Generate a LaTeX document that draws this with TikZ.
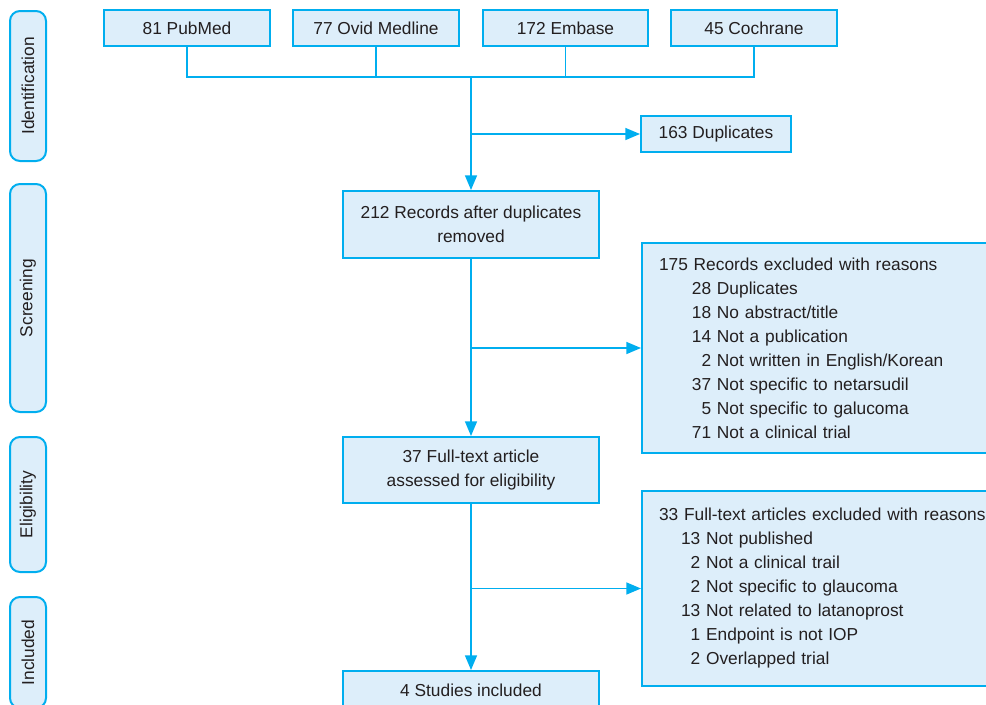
\documentclass[tikz,border=0pt]{standalone}
\usepackage{fontspec}
\setmainfont{Liberation Sans}
\usetikzlibrary{arrows.meta}
\definecolor{bfill}{RGB}{221,238,250}
\definecolor{bline}{RGB}{0,174,239}
\definecolor{txt}{RGB}{35,31,32}
\newdimen\px \px=0.75pt
\newcommand{\exl}[3]{\hspace*{#1}\makebox[1.112em][r]{#2} #3}
\begin{document}
\begin{tikzpicture}[x=0.75pt,y=-0.75pt,
  font=\fontsize{13}{18}\selectfont, text=txt,
  box/.style={draw=bline, fill=bfill, line width=1.5pt, inner sep=0pt, align=center},
  side/.style={box, rounded corners=7.5pt, rotate=90, minimum height=36\px},
  topbox/.style={box, minimum height=36\px},
  mainbox/.style={box, minimum width=256\px},
  exbox/.style={box, anchor=north west, align=left, text width=383\px, inner xsep=17\px},
  conn/.style={draw=bline, line width=1.1pt},
  arr/.style={conn, -{Triangle[length=11pt,width=9pt]}}
]
\useasboundingbox (0,0) rectangle (986,704);
\clip (0,0) rectangle (986,704);

% side labels
\node[side, minimum width=150\px] (sid) at (28,86) {Identification};
\node[side, minimum width=228\px] (sscr) at (28,298) {Screening};
\node[side, minimum width=135\px] (selig) at (28,504.5) {Eligibility};
\node[side, minimum width=111\px] (sinc) at (28,652.5) {Included};

% top boxes
\node[topbox, minimum width=166\px] (pub) at (187,28) {81 PubMed};
\node[topbox, minimum width=166\px] (ovid) at (376,28) {77 Ovid Medline};
\node[topbox, minimum width=165\px] (emb) at (565.5,28) {172 Embase};
\node[topbox, minimum width=166\px] (coch) at (754,28) {45 Cochrane};

\node[topbox, minimum width=150\px] (dup) at (716,134) {163 Duplicates};

% main column
\node[mainbox, minimum height=67\px] (r212) at (471,224.5) {212 Records after duplicates\\removed};
\node[mainbox, minimum height=66\px] (ft37) at (471,470) {37 Full-text article\\assessed for eligibility};
\node[mainbox, minimum height=38\px] (inc4) at (471,690) {4 Studies included};

% exclusion boxes
\node[exbox, minimum height=210\px] (ex1) at (641,242) {175 Records excluded with reasons\\
\exl{1.9em}{28}{Duplicates}\\
\exl{1.9em}{18}{No abstract/title}\\
\exl{1.9em}{14}{Not a publication}\\
\exl{1.9em}{2}{Not written in English/Korean}\\
\exl{1.9em}{37}{Not specific to netarsudil}\\
\exl{1.9em}{5}{Not specific to galucoma}\\
\exl{1.9em}{71}{Not a clinical trial}};

\node[exbox, minimum height=195\px] (ex2) at (641,490) {33 Full-text articles excluded with reasons\\
\exl{1.27em}{13}{Not published}\\
\exl{1.27em}{2}{Not a clinical trail}\\
\exl{1.27em}{2}{Not specific to glaucoma}\\
\exl{1.27em}{13}{Not related to latanoprost}\\
\exl{1.27em}{1}{Endpoint is not IOP}\\
\exl{1.27em}{2}{Overlapped trial}};

% connectors
\coordinate (jn) at (471,77);
\draw[conn] (pub.south) |- (jn) -| (coch.south);
\draw[conn] (ovid.south) -- (ovid.south |- jn);
\draw[conn] (emb.south) -- (emb.south |- jn);
\draw[arr] (jn) -- (r212.north);
\coordinate (jd) at (jn |- dup.west);
\draw[arr] (jd) -- (dup.west);

\draw[arr] (r212.south) -- (ft37.north);
\coordinate (j1) at (r212.south |- ex1.west);
\draw[arr] (j1) -- (ex1.west);

\draw[arr] (ft37.south) -- (inc4.north);
\coordinate (j2) at (ft37.south |- ex2.west);
\draw[arr] (j2) -- (ex2.west);
\end{tikzpicture}
\end{document}
